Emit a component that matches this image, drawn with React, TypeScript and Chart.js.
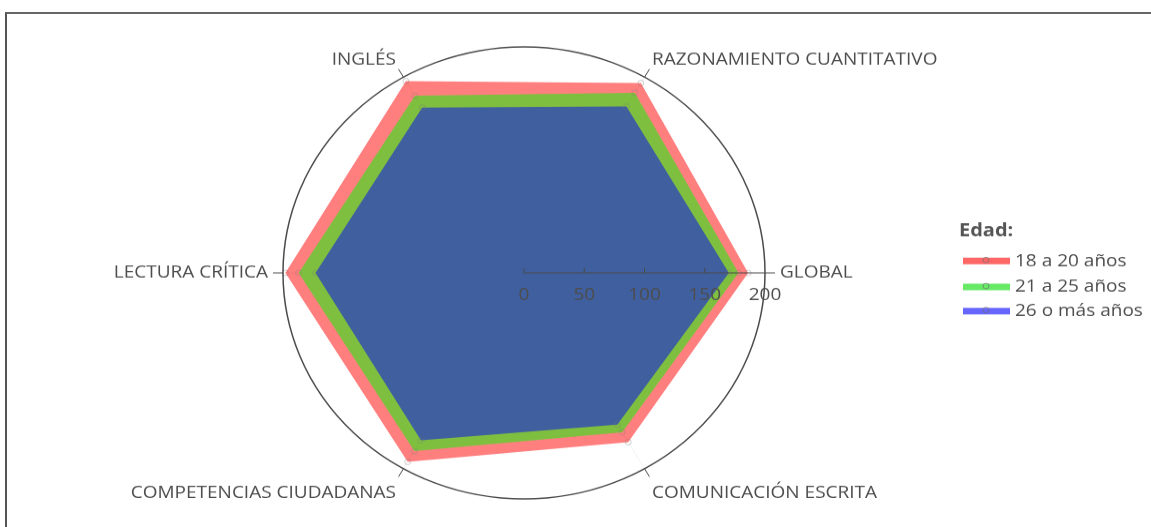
import React, { useEffect, useRef } from "react";
import { Chart, registerables } from "chart.js";

Chart.register(...registerables);

// ---- data ----
const categories = [
  "GLOBAL",
  "COMUNICACIÓN ESCRITA",
  "COMPETENCIAS CIUDADANAS",
  "LECTURA CRÍTICA",
  "INGLÉS",
  "RAZONAMIENTO CUANTITATIVO",
];
const serie18a20 = [186, 173, 193, 198, 196, 194];
const serie21a25 = [178, 163, 182, 187, 181, 184];
const serie26mas = [170, 155, 171, 173, 169, 170];
const seriesNames = ["18 a 20 años", "21 a 25 años", "26 o más años"];
const radialTicks = [0, 50, 100, 150, 200];
const legendTitle = "Edad:";

// ---- styles ----
const W = 1151;
const H_OUT = 527;
const SY = 226 / 241;
const H = Math.round(H_OUT / SY);
const FONT = '"Open Sans", "Noto Sans", sans-serif';
const TEXT = "#4d4d4d";
const fills = ["rgba(255,0,0,0.5)", "rgba(0,255,0,0.5)", "rgba(0,0,255,0.5)"];
const legendLines = ["rgba(255,0,0,0.6)", "rgba(0,220,0,0.6)", "rgba(0,0,255,0.6)"];

const overlay = {
  id: "overlay",
  afterDraw(chart: any) {
    const ctx = chart.ctx;
    const scale = chart.scales.r;
    const cx = scale.xCenter;
    const cy = scale.yCenter;
    const R = scale.drawingArea;
    ctx.save();
    // outer circle
    ctx.strokeStyle = "#4a4a4a";
    ctx.lineWidth = 1.5;
    ctx.beginPath();
    ctx.arc(cx, cy, R, 0, Math.PI * 2);
    ctx.stroke();
    // radial axis line
    ctx.lineWidth = 1;
    ctx.beginPath();
    ctx.moveTo(cx, cy);
    ctx.lineTo(cx + R, cy);
    ctx.stroke();
    // radial ticks + labels
    ctx.font = `19px ${FONT}`;
    ctx.fillStyle = TEXT;
    ctx.textAlign = "center";
    ctx.textBaseline = "middle";
    radialTicks.forEach((v) => {
      const x = cx + scale.getDistanceFromCenterForValue(v);
      if (v < 200) {
        ctx.beginPath();
        ctx.moveTo(x, cy);
        ctx.lineTo(x, cy - 5);
        ctx.stroke();
      }
      ctx.fillText(String(v), x, cy + 24);
    });
    // angular ticks and labels
    categories.forEach((label, i) => {
      const p1 = scale.getPointPosition(i, R);
      const p2 = scale.getPointPosition(i, R + 10);
      ctx.beginPath();
      ctx.moveTo(p1.x, p1.y);
      ctx.lineTo(p2.x, p2.y);
      ctx.stroke();
      const c = Math.cos(p2.angle);
      const s = Math.sin(p2.angle); // positive = down
      let align: CanvasTextAlign = "center";
      let dx = 0;
      if (c > 0.1) { align = "left"; dx = Math.abs(s) < 0.1 ? 5 : 2.5; }
      else if (c < -0.1) { align = "right"; dx = Math.abs(s) < 0.1 ? -5 : -2.5; }
      let dy = 0;
      if (s < -0.1) dy = -10 * (Math.abs(s) / 0.866);
      else if (s > 0.1) dy = 17.6 * (s / 0.866);
      ctx.textAlign = align;
      ctx.fillText(label, p2.x + dx, p2.y + dy);
    });
    // legend
    ctx.textAlign = "left";
    ctx.font = `bold 20px ${FONT}`;
    ctx.fillStyle = "#555";
    ctx.fillText(legendTitle, 959, 231 / SY);
    const ys = [261, 287, 311];
    ctx.font = `19px ${FONT}`;
    seriesNames.forEach((name, i) => {
      const y = ys[i] / SY;
      ctx.strokeStyle = legendLines[i];
      ctx.lineWidth = 7;
      ctx.beginPath();
      ctx.moveTo(963, y);
      ctx.lineTo(1010, y);
      ctx.stroke();
      ctx.lineWidth = 1;
      ctx.strokeStyle = "rgba(110,110,110,0.7)";
      ctx.beginPath();
      ctx.arc(986, y - 1, 3, 0, Math.PI * 2);
      ctx.stroke();
      ctx.fillStyle = TEXT;
      ctx.fillText(name, 1015, y);
    });
    ctx.restore();
  },
};

export default function App() {
  const ref = useRef<HTMLCanvasElement>(null);
  useEffect(() => {
    if (!ref.current) return;
    const series = [serie18a20, serie21a25, serie26mas];
    const chart = new Chart(ref.current, {
      type: "radar",
      data: {
        labels: categories,
        datasets: series.map((d, i) => ({
          label: seriesNames[i],
          data: d,
          fill: true,
          backgroundColor: fills[i],
          borderColor: "rgba(0,0,0,0)",
          borderWidth: 0,
          pointRadius: 3,
          pointBorderWidth: 1,
          pointBorderColor: "rgba(120,120,120,0.35)",
          pointBackgroundColor: "rgba(0,0,0,0)",
          order: 2 - i,
        })),
      },
      options: {
        responsive: false,
        animation: false,
        devicePixelRatio: 1,
        layout: { padding: { left: 283, right: W - 765, top: 50, bottom: H - 532 } },
        plugins: { legend: { display: false }, tooltip: { enabled: false } },
        scales: {
          r: {
            min: 0,
            max: 200,
            startAngle: 90,
            z: 1,
            ticks: { display: false, stepSize: 50 },
            pointLabels: { display: false },
            grid: {
              circular: true,
              color: (c: any) =>
                c.tick && c.tick.value === 200 ? "rgba(0,0,0,0)" : "rgba(255,255,255,0.2)",
            },
            angleLines: { color: "rgba(215,215,220,0.3)" },
          },
        },
      },
      plugins: [overlay],
    });
    return () => chart.destroy();
  }, []);
  return (
    <div style={{ position: "fixed", left: 0, top: 0, width: W, height: H_OUT, overflow: "hidden", background: "#fff" }}>
      <div
        style={{
          position: "absolute",
          left: 5,
          top: 12,
          width: 3000,
          height: 3000,
          borderTop: "2px solid #666",
          borderLeft: "2px solid #555",
        }}
      />
      <div
        style={{
          position: "absolute",
          left: 0,
          top: 0,
          width: W,
          height: H,
          transform: `scaleY(${SY})`,
          transformOrigin: "0 0",
        }}
      >
        <canvas ref={ref} width={W} height={H} style={{ display: "block", width: W, height: H }} />
      </div>
    </div>
  );
}
